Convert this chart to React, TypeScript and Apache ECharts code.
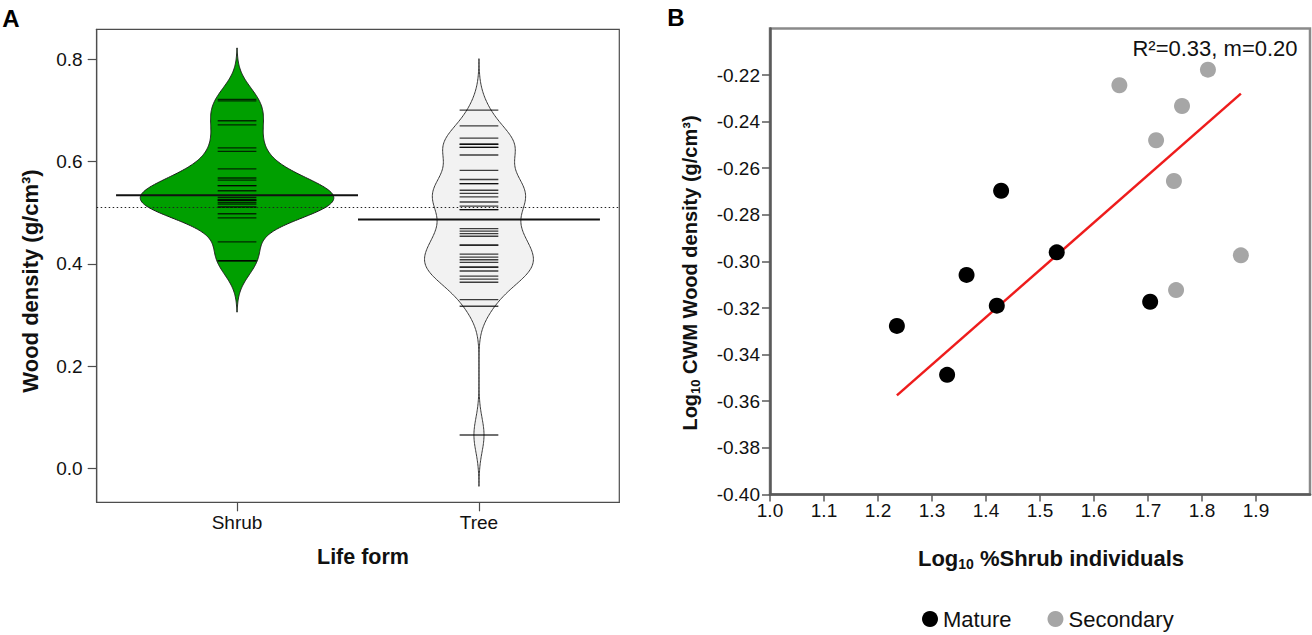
import React, { useEffect, useRef } from 'react';
import * as echarts from 'echarts';

// ---------- Panel A data (wood density, g/cm3) ----------
const lifeForms = ['Shrub', 'Tree'];
const shrubDensity = [
  0.722, 0.719, 0.68, 0.672, 0.627, 0.62, 0.586, 0.568, 0.564, 0.553, 0.553, 0.543,
  0.53, 0.526, 0.524, 0.524, 0.52, 0.517, 0.511, 0.511, 0.498, 0.49, 0.443, 0.406, 0.406,
];
const treeDensity = [
  0.701, 0.67, 0.646, 0.634, 0.634, 0.628, 0.628, 0.613, 0.583, 0.565, 0.557, 0.557,
  0.544, 0.538, 0.531, 0.521, 0.513, 0.506, 0.506, 0.469, 0.464, 0.459, 0.454, 0.437,
  0.436, 0.419, 0.413, 0.408, 0.403, 0.394, 0.393, 0.386, 0.376, 0.37, 0.364, 0.33,
  0.317, 0.065,
];
const beanMeans = [0.534, 0.487];
const overallMean = 0.509;
const aYTicks = [0, 0.2, 0.4, 0.6, 0.8];

// ---------- Panel B data ----------
const matureX = [1.428, 1.531, 1.364, 1.42, 1.704, 1.235, 1.328];
const matureY = [-0.2697, -0.2961, -0.3058, -0.319, -0.3173, -0.3277, -0.3487];
const secondaryX = [1.647, 1.811, 1.763, 1.715, 1.748, 1.872, 1.752];
const secondaryY = [-0.2244, -0.2177, -0.2333, -0.248, -0.2655, -0.2974, -0.3123];
const fitX = [1.235, 1.872];
const fitY = [-0.3575, -0.228];
const bXTicks = [1.0, 1.1, 1.2, 1.3, 1.4, 1.5, 1.6, 1.7, 1.8, 1.9];
const bYTicks = [-0.4, -0.38, -0.36, -0.34, -0.32, -0.3, -0.28, -0.26, -0.24, -0.22];

// ---------- bean shapes: gaussian kernel density of each group ----------
const BW = 0.0335;
const HALF_MAX = 0.4;
const LINE_HALF = 0.08;

function kde(values: number[], bw: number): number[][] {
  const lo = Math.min(...values) - 3 * bw;
  const hi = Math.max(...values) + 3 * bw;
  const n = 300;
  const out: number[][] = [];
  for (let k = 0; k <= n; k++) {
    const y = lo + ((hi - lo) * k) / n;
    let s = 0;
    for (const v of values) {
      const z = (y - v) / bw;
      s += Math.exp(-0.5 * z * z);
    }
    out.push([y, s / (values.length * bw * Math.sqrt(2 * Math.PI))]);
  }
  return out;
}
const beanValues = [shrubDensity, treeDensity];
const rawCurves = beanValues.map((v) => kde(v, BW));
const maxD = Math.max(...rawCurves.map((c) => Math.max(...c.map((p) => p[1]))));
const beanCurves = rawCurves.map((c) => c.map(([y, d]) => [y, (d / maxD) * HALF_MAX]));
const beanFill = ['#009f00', '#f2f2f2'];
const beanStroke = ['#1a1a1a', '#3a3a3a'];

const FONT = "'Liberation Sans', Arial, Helvetica, sans-serif";
const TXT = '#111';

function buildOption(): any {
  return {
    animation: false,
    textStyle: { fontFamily: FONT },
    grid: [
      { left: 96.7, top: 29.3, width: 522.6, height: 473, show: true, borderColor: '#4d4d4d', borderWidth: 1.2, backgroundColor: 'transparent' },
      { left: 770, top: 28.4, width: 540, height: 466, show: true, borderColor: '#8a8a8a', borderWidth: 2.5, backgroundColor: 'transparent' },
    ],
    xAxis: [
      {
        type: 'value', gridIndex: 0, min: 0.42, max: 2.58,
        splitLine: { show: false },
        axisLine: { show: true, onZero: false, lineStyle: { color: '#4d4d4d', width: 1.2 } },
        axisTick: { show: true, customValues: [1, 2], length: 9, lineStyle: { color: '#4d4d4d', width: 1.2 } },
        axisLabel: { customValues: [1, 2], formatter: (v: number) => lifeForms[Math.round(v) - 1], margin: 11, fontSize: 19, color: TXT, fontFamily: FONT },
      },
      {
        type: 'value', gridIndex: 1, min: 1, max: 2,
        splitLine: { show: false },
        axisLine: { show: true, onZero: false, lineStyle: { color: '#5a5a5a', width: 2.5 } },
        axisTick: { show: true, customValues: bXTicks, length: 7, lineStyle: { color: '#5a5a5a', width: 1.5 } },
        axisLabel: { customValues: bXTicks, formatter: (v: number) => v.toFixed(1), margin: 7, fontSize: 19, color: TXT, fontFamily: FONT },
      },
    ],
    yAxis: [
      {
        type: 'value', gridIndex: 0, min: -0.0667, max: 0.859,
        splitLine: { show: false },
        axisLine: { show: true, onZero: false, lineStyle: { color: '#4d4d4d', width: 1.2 } },
        axisTick: { show: true, customValues: aYTicks, length: 9, lineStyle: { color: '#4d4d4d', width: 1.2 } },
        axisLabel: { customValues: aYTicks, formatter: (v: number) => v.toFixed(1), margin: 14, fontSize: 19, color: TXT, fontFamily: FONT },
      },
      {
        type: 'value', gridIndex: 1, min: -0.4, max: -0.2,
        splitLine: { show: false },
        axisLine: { show: true, onZero: false, lineStyle: { color: '#5a5a5a', width: 2.5 } },
        axisTick: { show: true, customValues: bYTicks, length: 8, lineStyle: { color: '#5a5a5a', width: 1.5 } },
        axisLabel: { customValues: bYTicks, formatter: (v: number) => v.toFixed(2), margin: 10, fontSize: 19, color: TXT, fontFamily: FONT },
      },
    ],
    legend: {
      data: ['Mature', 'Secondary'],
      icon: 'circle',
      itemWidth: 16,
      itemHeight: 16,
      itemGap: 36,
      left: 922,
      top: 608,
      padding: 0,
      itemStyle: { opacity: 1 },
      textStyle: { fontSize: 22, color: TXT, fontFamily: FONT },
    },
    graphic: [
      { type: 'text', x: 11, y: 18, style: { text: 'A', fontSize: 24, fontWeight: 'bold', fontFamily: FONT, fill: '#000', align: 'center', verticalAlign: 'middle' } },
      { type: 'text', x: 676, y: 17, style: { text: 'B', fontSize: 24, fontWeight: 'bold', fontFamily: FONT, fill: '#000', align: 'center', verticalAlign: 'middle' } },
      { type: 'text', x: 30, y: 281, rotation: Math.PI / 2, style: { text: 'Wood density (g/cm³)', fontSize: 22, fontWeight: 'bold', fontFamily: FONT, fill: TXT, align: 'center', verticalAlign: 'middle' } },
      { type: 'text', x: 363, y: 557, style: { text: 'Life form', fontSize: 21.5, fontWeight: 'bold', fontFamily: FONT, fill: TXT, align: 'center', verticalAlign: 'middle' } },
      {
        type: 'text', x: 690, y: 273, rotation: Math.PI / 2,
        style: {
          text: '{a|Log}{s|10}{a| CWM Wood density (g/cm³)}',
          align: 'center', verticalAlign: 'middle',
          rich: {
            a: { fontSize: 20, fontWeight: 'bold', fontFamily: FONT, fill: TXT, lineHeight: 24 },
            s: { fontSize: 13, fontWeight: 'bold', fontFamily: FONT, fill: TXT, lineHeight: 13, verticalAlign: 'bottom' },
          },
        },
      },
      {
        type: 'text', x: 1051, y: 558,
        style: {
          text: '{a|Log}{s|10}{a| %Shrub individuals}',
          align: 'center', verticalAlign: 'middle',
          rich: {
            a: { fontSize: 22, fontWeight: 'bold', fontFamily: FONT, fill: TXT, lineHeight: 26 },
            s: { fontSize: 14, fontWeight: 'bold', fontFamily: FONT, fill: TXT, lineHeight: 14, verticalAlign: 'bottom' },
          },
        },
      },
      { type: 'text', x: 1215, y: 48, style: { text: 'R²=0.33, m=0.20', fontSize: 22, fontFamily: FONT, fill: TXT, align: 'center', verticalAlign: 'middle' } },
    ],
    series: [
      {
        type: 'line', name: 'overall', xAxisIndex: 0, yAxisIndex: 0, data: [], z: 1, silent: true,
        markLine: {
          silent: true, symbol: ['none', 'none'], label: { show: false },
          lineStyle: { color: '#222', type: [1.5, 2.5], width: 1 },
          data: [{ yAxis: overallMean }],
        },
      },
      {
        type: 'custom', name: 'beans', xAxisIndex: 0, yAxisIndex: 0, z: 3, silent: true,
        data: lifeForms.map((_, i) => [i + 1, beanMeans[i]]),
        encode: { x: 0, y: 1 },
        renderItem: (params: any, api: any) => {
          const i = params.dataIndex;
          const cx = i + 1;
          const curve = beanCurves[i];
          const right = curve.map(([y, w]) => api.coord([cx + w, y]));
          const left = curve.slice().reverse().map(([y, w]) => api.coord([cx - w, y]));
          const children: any[] = [
            { type: 'polygon', shape: { points: right.concat(left) }, style: { fill: beanFill[i], stroke: beanStroke[i], lineWidth: 1 } },
          ];
          for (const v of beanValues[i]) {
            const a = api.coord([cx - LINE_HALF, v]);
            const b = api.coord([cx + LINE_HALF, v]);
            children.push({ type: 'line', shape: { x1: a[0], y1: a[1], x2: b[0], y2: b[1] }, style: { stroke: 'rgba(0,0,0,0.75)', lineWidth: 1.3 } });
          }
          const m = api.value(1);
          const p1 = api.coord([cx - 0.5, m]);
          const p2 = api.coord([cx + 0.5, m]);
          children.push({ type: 'line', shape: { x1: p1[0], y1: p1[1], x2: p2[0], y2: p2[1] }, style: { stroke: '#111', lineWidth: 2 } });
          return { type: 'group', children };
        },
      },
      {
        type: 'scatter', name: 'Mature', xAxisIndex: 1, yAxisIndex: 1, symbolSize: 16, z: 4,
        itemStyle: { color: '#000', opacity: 1 },
        data: matureX.map((x, i) => [x, matureY[i]]),
      },
      {
        type: 'scatter', name: 'Secondary', xAxisIndex: 1, yAxisIndex: 1, symbolSize: 16, z: 4,
        itemStyle: { color: '#a6a6a6', opacity: 1 },
        data: secondaryX.map((x, i) => [x, secondaryY[i]]),
      },
      {
        type: 'line', name: 'fit', xAxisIndex: 1, yAxisIndex: 1, symbol: 'none', z: 3, silent: true,
        lineStyle: { color: '#ee1c1c', width: 2.5 },
        data: fitX.map((x, i) => [x, fitY[i]]),
      },
    ],
  };
}

export default function App() {
  const ref = useRef<HTMLDivElement>(null);
  useEffect(() => {
    if (!ref.current) return;
    const chart = echarts.init(ref.current, null, { renderer: 'svg' });
    chart.setOption(buildOption());
    return () => chart.dispose();
  }, []);
  return (
    <div
      ref={ref}
      style={{ position: 'fixed', left: 0, top: 0, width: 1312, height: 635, background: '#fff' }}
    />
  );
}
